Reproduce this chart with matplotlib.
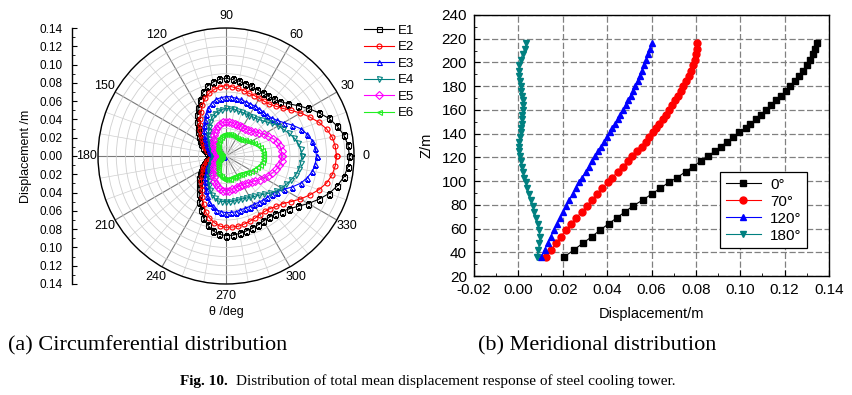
import numpy as np
import matplotlib
matplotlib.use("Agg")
import matplotlib.pyplot as plt
from matplotlib.ticker import MultipleLocator, FuncFormatter

plt.rcParams["font.family"] = ["Liberation Sans", "DejaVu Sans"]

# ---- (a) circumferential distribution, r at theta = 0, 5, ..., 355 deg ----
theta_deg = np.arange(0, 360, 5)

E1 = [0.135, 0.134, 0.131, 0.126, 0.120, 0.112, 0.104, 0.096, 0.089, 0.084,
      0.081, 0.080, 0.080, 0.080, 0.081, 0.082, 0.083, 0.084, 0.085, 0.084,
      0.082, 0.079, 0.074, 0.068, 0.061, 0.055, 0.049, 0.044, 0.040, 0.036,
      0.033, 0.030, 0.027, 0.024, 0.021, 0.017, 0.013, 0.017, 0.020, 0.023,
      0.026, 0.029, 0.032, 0.035, 0.038, 0.042, 0.046, 0.051, 0.058, 0.065,
      0.072, 0.078, 0.083, 0.086, 0.087, 0.087, 0.086, 0.085, 0.084, 0.083,
      0.082, 0.082, 0.083, 0.086, 0.090, 0.096, 0.104, 0.112, 0.120, 0.126,
      0.131, 0.134]
E2 = [0.121, 0.120, 0.118, 0.114, 0.108, 0.101, 0.094, 0.087, 0.081, 0.077,
      0.074, 0.073, 0.073, 0.073, 0.073, 0.074, 0.075, 0.076, 0.077, 0.076,
      0.074, 0.071, 0.067, 0.061, 0.055, 0.050, 0.044, 0.040, 0.036, 0.032,
      0.029, 0.026, 0.024, 0.021, 0.018, 0.015, 0.012, 0.015, 0.018, 0.021,
      0.023, 0.026, 0.029, 0.031, 0.034, 0.038, 0.041, 0.046, 0.052, 0.058,
      0.065, 0.070, 0.074, 0.077, 0.078, 0.078, 0.078, 0.077, 0.076, 0.075,
      0.074, 0.074, 0.075, 0.078, 0.081, 0.087, 0.094, 0.101, 0.108, 0.114,
      0.118, 0.120]
E3 = [0.099, 0.098, 0.096, 0.092, 0.087, 0.080, 0.073, 0.068, 0.065, 0.063,
      0.063, 0.063, 0.063, 0.063, 0.063, 0.064, 0.064, 0.065, 0.065, 0.064,
      0.063, 0.060, 0.056, 0.051, 0.046, 0.041, 0.037, 0.033, 0.030, 0.027,
      0.024, 0.022, 0.020, 0.018, 0.015, 0.012, 0.002, 0.012, 0.015, 0.017,
      0.019, 0.021, 0.024, 0.026, 0.029, 0.032, 0.035, 0.039, 0.043, 0.048,
      0.053, 0.057, 0.060, 0.061, 0.062, 0.062, 0.062, 0.061, 0.061, 0.061,
      0.061, 0.062, 0.063, 0.064, 0.065, 0.068, 0.073, 0.080, 0.087, 0.092,
      0.096, 0.098]
E4 = [0.083, 0.082, 0.080, 0.077, 0.073, 0.069, 0.066, 0.062, 0.058, 0.055,
      0.053, 0.052, 0.051, 0.051, 0.051, 0.051, 0.052, 0.052, 0.052, 0.051,
      0.050, 0.048, 0.045, 0.041, 0.037, 0.033, 0.030, 0.027, 0.024, 0.022,
      0.020, 0.018, 0.017, 0.015, 0.014, 0.013, 0.012, 0.013, 0.014, 0.015,
      0.017, 0.018, 0.020, 0.022, 0.024, 0.027, 0.030, 0.033, 0.037, 0.041,
      0.045, 0.048, 0.050, 0.050, 0.050, 0.050, 0.050, 0.050, 0.050, 0.051,
      0.052, 0.054, 0.056, 0.059, 0.063, 0.067, 0.070, 0.073, 0.076, 0.079,
      0.081, 0.082]
E5 = [0.061, 0.061, 0.060, 0.058, 0.055, 0.051, 0.048, 0.044, 0.041, 0.039,
      0.037, 0.036, 0.036, 0.036, 0.036, 0.036, 0.037, 0.037, 0.037, 0.037,
      0.036, 0.034, 0.032, 0.029, 0.026, 0.023, 0.021, 0.019, 0.017, 0.015,
      0.014, 0.013, 0.011, 0.010, 0.009, 0.007, 0.005, 0.007, 0.009, 0.010,
      0.011, 0.013, 0.014, 0.015, 0.017, 0.019, 0.021, 0.024, 0.027, 0.030,
      0.033, 0.035, 0.037, 0.038, 0.038, 0.038, 0.037, 0.037, 0.036, 0.036,
      0.036, 0.037, 0.038, 0.040, 0.042, 0.045, 0.048, 0.051, 0.054, 0.057,
      0.059, 0.061]
E6 = [0.041, 0.041, 0.040, 0.038, 0.036, 0.034, 0.031, 0.029, 0.027, 0.025,
      0.024, 0.023, 0.023, 0.023, 0.023, 0.024, 0.024, 0.024, 0.024, 0.024,
      0.023, 0.022, 0.021, 0.019, 0.017, 0.016, 0.014, 0.013, 0.012, 0.011,
      0.010, 0.009, 0.008, 0.007, 0.006, 0.005, 0.004, 0.005, 0.006, 0.007,
      0.008, 0.009, 0.010, 0.011, 0.012, 0.013, 0.014, 0.016, 0.018, 0.020,
      0.022, 0.023, 0.024, 0.025, 0.025, 0.025, 0.025, 0.024, 0.024, 0.024,
      0.024, 0.024, 0.025, 0.026, 0.028, 0.030, 0.032, 0.034, 0.036, 0.038,
      0.040, 0.041]

circ_names = ["E1", "E2", "E3", "E4", "E5", "E6"]
circ_colors = ["black", "red", "blue", "#008080", "magenta", "#22ee22"]
circ_markers = ["s", "o", "^", "v", "D", "<"]

# ---- (b) meridional distribution ----
Z = [36, 42, 48, 53, 59, 64, 69, 74, 79, 84, 89, 94, 99, 103, 108, 112, 117,
     121, 125, 129, 133, 137, 141, 145, 148, 152, 156, 160, 164, 168, 172,
     176, 180, 184, 189, 193, 198, 202, 207, 211, 216]
d_0 = [0.0206, 0.0250, 0.0293, 0.0330, 0.0370, 0.0407, 0.0443, 0.0480, 0.0516,
       0.0560, 0.0600, 0.0640, 0.0678, 0.0716, 0.0754, 0.0786, 0.0822, 0.0854,
       0.0884, 0.0912, 0.0940, 0.0968, 0.0996, 0.1024, 0.1046, 0.1070, 0.1094,
       0.1118, 0.1140, 0.1162, 0.1184, 0.1206, 0.1226, 0.1246, 0.1266, 0.1284,
       0.1300, 0.1314, 0.1326, 0.1336, 0.1345]
d_70 = [0.0126, 0.0149, 0.0170, 0.0191, 0.0215, 0.0239, 0.0261, 0.0285, 0.0309,
        0.0332, 0.0356, 0.0378, 0.0402, 0.0424, 0.0448, 0.0470, 0.0493, 0.0514,
        0.0535, 0.0555, 0.0573, 0.0590, 0.0606, 0.0621, 0.0636, 0.0651, 0.0665,
        0.0680, 0.0694, 0.0707, 0.0720, 0.0732, 0.0744, 0.0756, 0.0767, 0.0777,
        0.0787, 0.0795, 0.0801, 0.0805, 0.0807]
d_120 = [0.0104, 0.0118, 0.0133, 0.0146, 0.0160, 0.0174, 0.0188, 0.0202, 0.0216,
         0.0230, 0.0244, 0.0258, 0.0273, 0.0288, 0.0303, 0.0317, 0.0332, 0.0346,
         0.0360, 0.0373, 0.0386, 0.0399, 0.0412, 0.0424, 0.0436, 0.0448, 0.0460,
         0.0472, 0.0484, 0.0495, 0.0506, 0.0517, 0.0527, 0.0537, 0.0547, 0.0557,
         0.0567, 0.0576, 0.0585, 0.0593, 0.0602]
d_180 = [0.0082, 0.0090, 0.0095, 0.0097, 0.0093, 0.0087, 0.0080, 0.0072, 0.0064,
         0.0056, 0.0048, 0.0040, 0.0033, 0.0027, 0.0021, 0.0016, 0.0010, 0.0006,
         0.0003, 0.0002, 0.0004, 0.0007, 0.0010, 0.0013, 0.0015, 0.0017, 0.0018,
         0.0019, 0.0020, 0.0020, 0.0018, 0.0014, 0.0010, 0.0006, 0.0002, 0.0001,
         0.0004, 0.0010, 0.0019, 0.0028, 0.0036]

mer_labels = ["0°", "70°", "120°", "180°"]
mer_colors = ["black", "red", "blue", "#008080"]
mer_markers = ["s", "o", "^", "v"]

W, H = 852, 395
fig = plt.figure(figsize=(W / 100, H / 100), dpi=100)

# polar panel
pax = fig.add_axes([98 / W, 1 - 284 / H, 256 / W, 256 / H], projection="polar")
th = np.deg2rad(np.append(theta_deg, theta_deg[0]))
for name, r, c, m in zip(circ_names, [E1, E2, E3, E4, E5, E6], circ_colors, circ_markers):
    rr = np.append(r, r[0])
    pax.plot(th, rr, color=c, lw=0.8, marker=m, ms=3.6, mfc="none", mec=c, mew=0.8,
             label=name)
pax.set_ylim(0, 0.14)
pax.set_yticks(np.arange(0.01, 0.141, 0.01))
pax.set_yticklabels([])
pax.set_xticks(np.deg2rad(np.arange(0, 360, 30)))
pax.set_xticklabels([str(a) for a in range(0, 360, 30)], fontsize=9)
pax.xaxis.set_minor_locator(MultipleLocator(np.deg2rad(10)))
pax.grid(True, which="major", axis="x", color="#7a7a7a", lw=0.8)
pax.grid(True, which="minor", axis="x", color="#cfcfcf", lw=0.5)
pax.grid(True, which="major", axis="y", color="#cfcfcf", lw=0.6)
pax.tick_params(axis="x", pad=-2)
pax.spines["polar"].set_linewidth(1.0)
pax.legend(loc="upper left", bbox_to_anchor=(357 / W, 1 - 18 / H),
           bbox_transform=fig.transFigure, frameon=False, fontsize=9.5,
           handlelength=2.3, handletextpad=0.3, labelspacing=0.32, borderpad=0)

# stand-alone radius scale on the left
yax = fig.add_axes([72 / W, 1 - 284 / H, 0.0001, 256 / H])
yax.set_ylim(-0.14, 0.14)
yax.set_xticks([])
for s in ["top", "right", "bottom"]:
    yax.spines[s].set_visible(False)
yax.spines["left"].set_linewidth(1.0)
yax.yaxis.set_major_locator(MultipleLocator(0.02))
yax.yaxis.set_minor_locator(MultipleLocator(0.01))
yax.yaxis.set_major_formatter(FuncFormatter(lambda v, p: f"{abs(v):.2f}"))
yax.tick_params(axis="y", which="major", direction="in", length=3.5, labelsize=8.5, pad=7)
yax.tick_params(axis="y", which="minor", direction="in", length=2)
yax.set_ylabel("Displacement /m", fontsize=9, labelpad=5)
fig.text(226 / W, 1 - 312 / H, "θ /deg", ha="center", va="center", fontsize=9)

# meridional panel
ax = fig.add_axes([474 / W, 1 - 276 / H, 355 / W, 261 / H])
for lab, d, c, m in zip(mer_labels, [d_0, d_70, d_120, d_180], mer_colors, mer_markers):
    ax.plot(d, Z, color=c, lw=0.8, marker=m, ms=5, mfc=c, mec=c, label=lab)
ax.set_xlim(-0.02, 0.14)
ax.set_ylim(20, 240)
ax.xaxis.set_major_locator(MultipleLocator(0.02))
ax.xaxis.set_minor_locator(MultipleLocator(0.01))
ax.yaxis.set_major_locator(MultipleLocator(20))
ax.yaxis.set_minor_locator(MultipleLocator(10))
ax.xaxis.set_major_formatter(FuncFormatter(lambda v, p: f"{v:.2f}"))
ax.tick_params(which="both", direction="in", labelsize=11, top=False, right=False)
ax.tick_params(axis="x", which="major", length=4, pad=5)
ax.tick_params(axis="y", which="major", length=4, pad=5)
ax.tick_params(which="minor", length=2.5)
ax.grid(True, which="major", color="#808080", lw=0.9, ls=(0, (5, 2)))
ax.set_axisbelow(True)
for s in ax.spines.values():
    s.set_linewidth(1.0)
ax.set_xlabel("Displacement/m", fontsize=10.5, labelpad=7)
ax.set_ylabel("Z/m", fontsize=10.5, labelpad=6)
leg = ax.legend(loc="lower right", bbox_to_anchor=(0.938, 0.107), fontsize=11,
                fancybox=False, edgecolor="black", framealpha=1, handlelength=2.3,
                handletextpad=0.6, labelspacing=0.2, borderpad=0.35, borderaxespad=0)
leg.get_frame().set_linewidth(0.9)

# captions
fig.text(8 / W, 1 - 346 / H, "(a) Circumferential distribution", fontsize=16,
         family="Liberation Serif", va="center", ha="left")
fig.text(478 / W, 1 - 346 / H, "(b) Meridional distribution", fontsize=16,
         family="Liberation Serif", va="center", ha="left")
fig.text(180 / W, 1 - 381 / H, "Fig. 10.", fontsize=11, family="Liberation Serif",
         weight="bold", va="center", ha="left")
fig.text(236 / W, 1 - 381 / H,
         "Distribution of total mean displacement response of steel cooling tower.",
         fontsize=11, family="Liberation Serif", va="center", ha="left")

fig.savefig("out.png", dpi=100)
